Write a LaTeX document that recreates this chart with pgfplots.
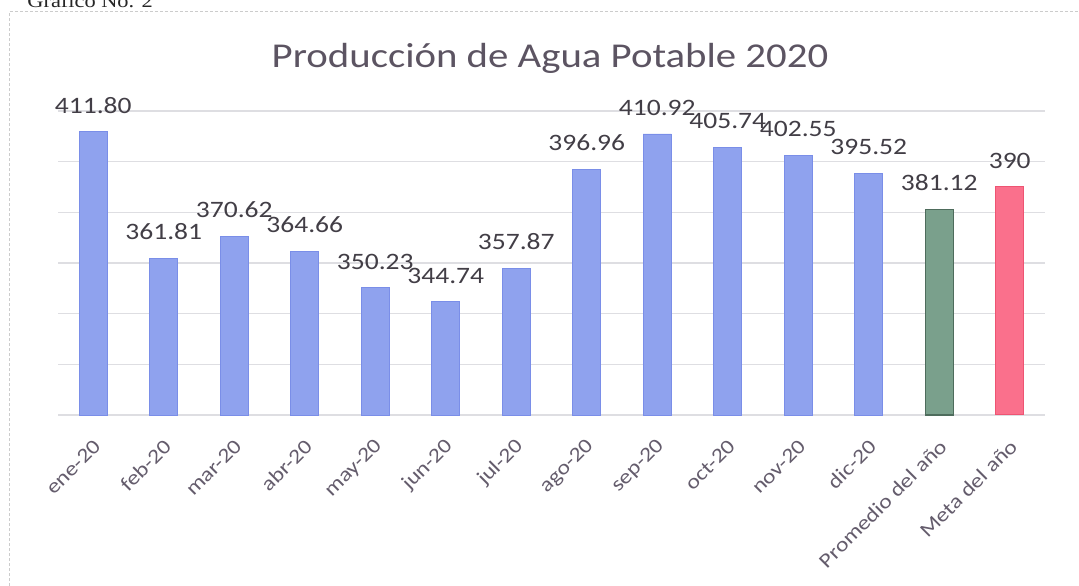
\documentclass[border=0pt]{standalone}
\usepackage{pgfplots}
\pgfplotsset{compat=1.18}
\usepackage{fontspec}
\setmainfont{Carlito}[FakeStretch=1.17]
\newfontfamily\serifhead{Liberation Serif}[FakeStretch=1.17]
\definecolor{barblue}{RGB}{143,162,238}
\definecolor{barblueedge}{RGB}{122,142,232}
\definecolor{bargreen}{RGB}{122,160,140}
\definecolor{bargreenedge}{RGB}{78,108,92}
\definecolor{barpink}{RGB}{250,112,140}
\definecolor{barpinkedge}{RGB}{238,84,114}
\definecolor{titlegray}{RGB}{92,84,98}
\definecolor{labelgray}{RGB}{66,62,70}
\definecolor{tickgray}{RGB}{100,92,108}
\definecolor{gridgray}{RGB}{222,222,226}
\begin{document}
\begin{tikzpicture}
\useasboundingbox (0bp,0bp) rectangle (539.5bp,293bp);
\clip (0bp,0bp) rectangle (539.5bp,293bp);
\fill[white] (0bp,0bp) rectangle (539.5bp,293bp);
\draw[gray!40, line width=0.5bp, dash pattern=on 1.5bp off 1bp] (4.5bp,-5bp) -- (4.5bp,287bp) -- (545bp,287bp);
\node[anchor=base west, inner sep=0pt, font=\serifhead\fontsize{9.6}{11}\selectfont, text=black!85] at (13.5bp,289.3bp) {Gráfico No. 2};
\node[anchor=base, inner sep=0pt, font=\fontsize{17.5}{20}\selectfont, text=titlegray] at (275bp,259bp) {Producción de Agua Potable 2020};
\begin{axis}[
  at={(29bp,85.5bp)}, anchor=south west,
  scale only axis, width=493.5bp, height=152bp,
  xmin=-0.5, xmax=13.5, ymin=300, ymax=420,
  ytick={300,320,...,420}, yticklabels={},
  ymajorgrids, grid style={gridgray, line width=0.6bp},
  axis line style={draw=none}, major tick length=0pt,
  xtick={0,...,13},
  xticklabels={ene-20,feb-20,mar-20,abr-20,may-20,jun-20,jul-20,ago-20,sep-20,oct-20,nov-20,dic-20,Promedio del año,Meta del año},
  xticklabel style={xshift=2bp, yshift=-14bp, rotate=45, anchor=east, inner sep=0pt, font=\fontsize{10.2}{12}\selectfont, text=tickgray},
  clip=false,
  point meta=explicit symbolic,
  nodes near coords,
  every node near coord/.append style={inner sep=0pt, yshift=9bp, font=\fontsize{11.8}{13}\selectfont, text=labelgray},
]
\addplot[ybar, bar width=0.4, bar shift=0pt, fill=barblue, draw=barblueedge, line width=0.4bp] coordinates {
(0,411.80) [411.80]
(1,361.81) [361.81]
(2,370.62) [370.62]
(3,364.66) [364.66]
(4,350.23) [350.23]
(5,344.74) [344.74]
(6,357.87) [357.87]
(7,396.96) [396.96]
(8,410.92) [410.92]
(9,405.74) [405.74]
(10,402.55) [402.55]
(11,395.52) [395.52]
};
\addplot[ybar, bar width=0.4, bar shift=0pt, fill=bargreen, draw=bargreenedge, line width=0.6bp] coordinates {
(12,381.12) [381.12]
};
\addplot[ybar, bar width=0.4, bar shift=0pt, fill=barpink, draw=barpinkedge, line width=0.5bp] coordinates {
(13,390) [390]
};
\end{axis}
\end{tikzpicture}
\end{document}
